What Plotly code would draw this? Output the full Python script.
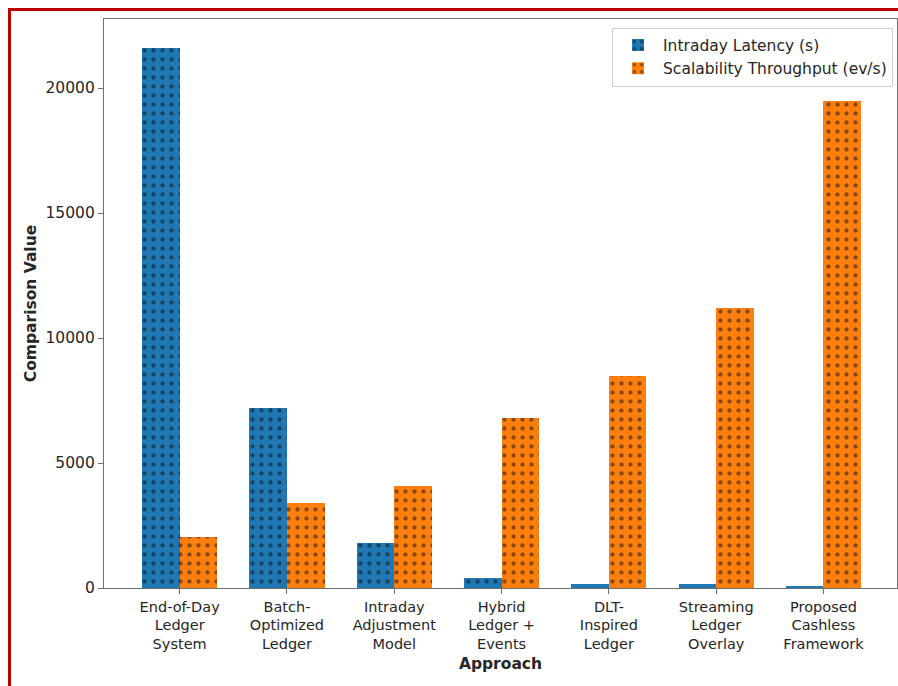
import plotly.graph_objects as go

# Approaches compared (tick labels wrap over several lines)
approaches = [
    "End-of-Day<br>Ledger<br>System",
    "Batch-<br>Optimized<br>Ledger",
    "Intraday<br>Adjustment<br>Model",
    "Hybrid<br>Ledger +<br>Events",
    "DLT-<br>Inspired<br>Ledger",
    "Streaming<br>Ledger<br>Overlay",
    "Proposed<br>Cashless<br>Framework",
]
latency_s = [21600, 7200, 1800, 400, 150, 150, 50]
throughput_evs = [2050, 3400, 4100, 6800, 8500, 11200, 19500]

idx = list(range(len(approaches)))
bar_w = 0.35
x_lat = [i - bar_w / 2 for i in idx]
x_thr = [i + bar_w / 2 for i in idx]

dot_pattern = dict(shape=".", fgcolor="#111111", size=9, solidity=0.18)

fig = go.Figure()
fig.add_trace(go.Bar(
    x=x_lat, y=latency_s, width=bar_w, name="Intraday Latency (s)",
    marker=dict(color="#1f77b4", line=dict(width=0), pattern=dot_pattern),
))
fig.add_trace(go.Bar(
    x=x_thr, y=throughput_evs, width=bar_w, name="Scalability Throughput (ev/s)",
    marker=dict(color="#ff7f0e", line=dict(width=0), pattern=dot_pattern),
))

W, H = 898, 686
ml, mr, mt, mb = 104, 1, 19, 98
pw = W - ml - mr
ph = H - mt - mb

def px_x(p):
    return (p - ml) / pw

def px_y(p):
    return (H - mb - p) / ph

font = "DejaVu Sans, Liberation Sans, sans-serif"
spine = "#707070"
fs = 15.5

fig.update_layout(
    width=W, height=H,
    margin=dict(l=ml, r=mr, t=mt, b=mb),
    paper_bgcolor="white", plot_bgcolor="white",
    font=dict(family=font, size=fs, color="#262626"),
    barmode="overlay",
    bargap=0,
    showlegend=True,
    legend=dict(
        x=0.995, y=0.985, xanchor="right", yanchor="top",
        bgcolor="rgba(255,255,255,0.9)", bordercolor="#d0d0d0", borderwidth=1,
        font=dict(size=fs), itemwidth=40, tracegroupgap=2,
    ),
    xaxis=dict(
        range=[-0.705, 6.685],
        tickmode="array", tickvals=idx, ticktext=approaches,
        ticks="outside", ticklen=5, tickcolor=spine,
        tickfont=dict(size=14.5),
        showline=True, linecolor=spine, linewidth=1.3, mirror=True,
        showgrid=False, zeroline=False,
        title=dict(text="<b>Approach</b>", standoff=6, font=dict(size=fs)),
    ),
    yaxis=dict(
        range=[0, 22760],
        tickvals=[0, 5000, 10000, 15000, 20000],
        ticktext=["0", "5000", "10000", "15000", "20000"],
        ticks="outside", ticklen=5, tickcolor=spine,
        tickfont=dict(size=fs),
        showline=True, linecolor=spine, linewidth=1.3, mirror=True,
        showgrid=False, zeroline=False,
        title=dict(text="<b>Comparison Value</b>", standoff=5, font=dict(size=fs)),
    ),
    shapes=[
        # red frame around the figure (left and top edges)
        dict(type="line", xref="paper", yref="paper",
             x0=px_x(9.5), x1=px_x(9.5), y0=px_y(8), y1=px_y(H + 5),
             line=dict(color="#c00000", width=3)),
        dict(type="line", xref="paper", yref="paper",
             x0=px_x(8), x1=px_x(W + 5), y0=px_y(9.5), y1=px_y(9.5),
             line=dict(color="#c00000", width=3)),
    ],
)

fig.write_html("out.html")
